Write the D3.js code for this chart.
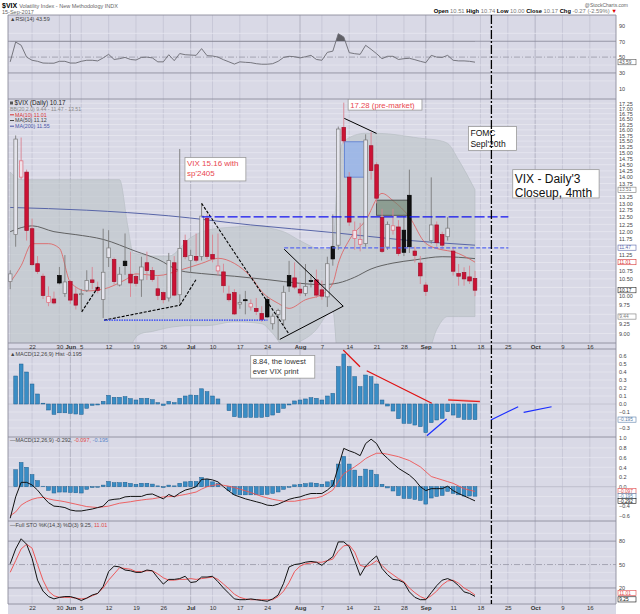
<!doctype html>
<html lang="en">
<head>
<meta charset="utf-8">
<style>
body{margin:0;background:#fff;}
svg text{font-family:"Liberation Sans",Arial,sans-serif;}
</style>
</head>
<body>
<svg id="chart" width="640" height="614"></svg>
<script src="https://d3js.org/d3.v7.min.js"></script>
<script>

// first candle is 16 May 2017; index 0 = 22 May 2017 (trading days)
var startIdx = -4;

var open = [10.42,11.9,14.0,14.2,12.1,10.96,10.58,9.82,9.92,10.6,
 10.08,10.42,10.06,10.06,10.17,10.47,10.25,9.91,11.15,11.09,
 10.32,11.04,10.64,10.57,10.47,10.99,10.75,10.21,10.1,9.95,
 10.99,10.04,11.7,11.06,11.19,11.19,12.46,11.25,10.74,10.71,
 10.06,10.1,9.78,9.9,9.7,9.66,9.52,9.91,9.25,9.5,
 9.35,10.6,10.53,10.2,10.08,10.45,10.47,10.18,9.98,11.5,
 11.55,16.11,14.0,11.77,11.58,11.6,15.3,14.5,12.5,11.49,
 12.05,12.16,12.05,13.3,11.36,10.98,10.32,11.7,12.23,11.9,
 11.83,11.36,10.66,10.69,10.56,10.51];
var high = [10.76,15.75,15.66,14.3,12.45,11.2,10.66,10.28,10.13,10.86,
 11.23,10.47,10.27,10.2,10.76,10.86,10.42,12.1,12.05,11.15,
 10.86,11.94,11.34,10.66,11.18,11.34,10.86,10.57,10.13,11.3,
 11.2,15.16,11.9,11.4,11.94,13.0,12.6,11.9,11.94,10.96,
 10.3,10.2,10.05,10.15,9.91,9.95,9.72,10.0,9.52,9.65,
 10.3,11.05,11.0,10.4,10.95,10.65,10.78,10.45,11.18,12.6,
 16.15,17.28,14.2,12.35,12.3,15.8,15.9,14.6,12.8,12.35,
 12.8,12.4,12.6,14.3,11.5,11.2,10.4,13.99,12.35,12.0,
 12.5,11.5,10.95,10.85,10.9,10.74];
var low = [10.2,11.5,13.9,11.7,10.9,10.65,9.92,9.72,9.77,10.34,
 9.98,9.79,9.63,9.6,10.12,10.2,10.08,9.4,10.86,10.33,
 10.28,10.62,9.98,10.28,9.98,10.47,10.42,9.89,9.8,9.85,
 10.0,9.8,11.1,10.7,11.0,11.06,11.1,11.0,10.6,10.1,
 9.85,9.48,9.65,9.5,9.6,9.48,9.3,9.4,9.1,8.84,
 9.2,10.12,10.2,10.0,10.0,10.25,9.95,9.9,9.7,10.9,
 11.4,15.4,12.2,11.4,11.35,11.5,13.9,13.0,11.3,11.4,
 11.9,11.2,11.2,11.3,11.0,10.35,10.0,11.6,11.5,11.4,
 11.7,10.6,10.3,10.3,10.35,10.0];
var close = [10.65,15.59,14.66,12.04,10.93,10.72,10.02,9.99,9.81,10.38,
 10.41,9.89,9.75,10.07,10.45,10.39,10.16,10.70,11.46,10.42,
 10.64,10.90,10.38,10.37,10.86,10.75,10.48,10.02,9.90,11.06,
 10.03,11.44,11.18,11.22,11.07,12.54,11.19,11.11,10.89,10.30,
 9.90,9.51,9.82,9.89,9.79,9.58,9.36,9.43,9.45,9.60,
 10.11,10.29,10.26,10.09,10.28,10.44,10.03,10.0,10.96,11.11,
 16.04,15.51,12.33,12.04,11.74,15.55,14.26,13.19,11.35,12.25,
 12.2,11.28,11.32,11.5,11.22,10.59,10.13,12.23,11.63,11.55,
 12.12,10.73,10.58,10.50,10.44,10.17];

var rsi = [44,69,65,50,46,44.7,42.5,42.3,42.3,44.7,
 44.7,42.5,42.5,44.7,46,46,45.2,49,53.5,47,
 48,49.6,47,46.3,49.6,50,49,44,44,53,
 45.5,54.5,53,52.6,52.2,60.7,51.8,51.4,50,46.7,
 44,41.2,44,43.4,43,41.7,41,41,41.7,44.7,
 49.6,51,50.5,49,50.5,52.2,47,46,56,57.5,
 79.6,75.4,55.6,54.3,53.5,64.9,59.8,54.3,48,51,
 51,47,48,48.5,46.7,44.7,43,52.2,50,49.6,
 52.2,46,45.2,45.2,44.7,43.59];

var macdHist = [0,0.35,0.50,0.40,0.25,0.125,0.01,-0.075,-0.13,-0.11,
 -0.11,-0.117,-0.125,-0.13,-0.054,-0.017,-0.012,0.033,0.108,0.083,
 0.083,0.092,0.067,0.05,0.071,0.071,0.054,0.017,-0.017,0.033,
 0.017,0.071,0.10,0.112,0.108,0.19,0.154,0.10,0.063,0.0,
 -0.083,-0.158,-0.167,-0.167,-0.167,-0.167,-0.167,-0.158,-0.138,-0.108,
 -0.054,-0.012,0.038,0.05,0.063,0.079,0.071,0.05,0.10,0.133,
 0.467,0.625,0.467,0.342,0.217,0.362,0.342,0.25,0.05,-0.025,
 -0.088,-0.183,-0.242,-0.242,-0.263,-0.283,-0.358,-0.233,-0.20,-0.179,
 -0.096,-0.138,-0.167,-0.192,-0.192,-0.195];
var macdLine = [-0.65,-0.21,0.09,0.09,0.035,-0.07,-0.21,-0.33,-0.40,-0.41,
 -0.43,-0.48,-0.50,-0.50,-0.48,-0.46,-0.43,-0.40,-0.28,-0.26,
 -0.25,-0.21,-0.20,-0.20,-0.20,-0.16,-0.15,-0.20,-0.25,-0.16,
 -0.21,-0.13,-0.07,-0.04,0.0,0.15,0.16,0.14,0.10,0.0,
 -0.09,-0.17,-0.21,-0.25,-0.28,-0.31,-0.34,-0.38,-0.39,-0.36,
 -0.31,-0.26,-0.23,-0.21,-0.17,-0.14,-0.14,-0.14,-0.07,0.03,
 0.41,0.79,0.74,0.70,0.64,0.89,0.98,0.89,0.69,0.585,
 0.48,0.38,0.31,0.24,0.14,0.0,-0.08,-0.04,-0.04,-0.04,
 0.01,-0.08,-0.14,-0.19,-0.24,-0.292];
var macdSignal = [-0.60,-0.52,-0.38,-0.31,-0.26,-0.23,-0.22,-0.25,-0.275,-0.29,
 -0.31,-0.335,-0.36,-0.385,-0.41,-0.42,-0.43,-0.415,-0.40,-0.37,
 -0.34,-0.325,-0.31,-0.29,-0.275,-0.26,-0.25,-0.23,-0.21,-0.205,
 -0.20,-0.18,-0.16,-0.135,-0.11,-0.05,0.0,0.025,0.045,0.03,
 0.01,-0.02,-0.05,-0.085,-0.12,-0.16,-0.20,-0.23,-0.26,-0.28,
 -0.30,-0.30,-0.30,-0.28,-0.26,-0.24,-0.23,-0.20,-0.14,-0.07,
 0.10,0.27,0.34,0.41,0.49,0.58,0.64,0.69,0.69,0.67,
 0.645,0.62,0.58,0.54,0.475,0.41,0.31,0.21,0.175,0.14,
 0.105,0.07,0.015,-0.04,-0.07,-0.097];

var stoK = [51,70,83,76,58,30,16,9,6,8,
 9,9,7,4,7,11,13,22,41,48,
 47,43,42,40,40,43,42,33,25,31,
 31,32,35,27,28,34,34,35,28,20,
 13,6,5,5,6,5,4,3,6,11,
 26,47,50,51,53,54,53,49,55,60,
 79,79,73,55,36,48,55,61,45,37,
 31,30,27,15,8,5,5,14,23,30,
 32,29,23,15,13,9.25];
var stoD = [40,55,70,76,71,50,30,16,10,8,
 8,8,7,6,7,10,13,20,30,38,
 46,45,44,41,41,42,42,38,33,30,
 30,31,31,32,31,32,33,34,31,25,
 19,12,8,6,5,5,5,5,5,9,
 16,27,41,48,51,52,53,53,55,57,
 67,74,75,66,49,47,50,55,49,42,
 37,32,28,20,14,9,6,10,16,24,
 29,30,26,20,16,11.01];

// overlays read at sample days: [day index, value]
var ma10 = [[-4,10.4],[-2,10.9],[0,11.6],[3,11.6],[5,11.45],[7,10.4],[10,10.15],[13,10.2],[17,10.47],[19,10.65],[23,10.6],[27,10.76],[31,10.97],[34,11.13],[37,10.97],[40,10.56],[42,10.13],[45,9.8],[47,9.66],[50,9.9],[53,10.05],[55,10.37],[56,10.97],[58,11.72],[61,12.39],[64,13.37],[66,13.1],[69,12.51],[72,11.61],[75,11.4],[77,11.34],[81,11.01]];
var ma50 = [[-4,12.0],[0,12.2],[4,12.0],[8,11.9],[13,11.74],[19,11.35],[23,11.1],[27,10.75],[31,10.66],[37,10.58],[43,10.48],[49,10.37],[53,10.33],[56,10.38],[59,10.55],[62,10.8],[66,10.98],[70,11.08],[75,11.18],[81,11.12]];
var ma200 = [[-4,12.85],[10,12.75],[25,12.55],[40,12.23],[55,11.97],[68,11.72],[81,11.55]];
var bbIdx   = [-4,-2,16,17.5,18.5,20,22,25,29,32,37,42,44,46,49,52,54,55,56,57,61,63,72,74,76,78,81];
var bbUpper = [14.2,13.9,13.9,12.2,11.3,11.25,11.2,11.2,11.8,12.05,12.16,12.2,12.1,12.0,11.7,11.45,11.4,11.6,14.5,15.5,15.85,15.85,15.6,15.55,15.4,14.7,13.51];
var bbLower = [7.0,7.0,7.0,7.0,8.8,9.0,9.05,9.15,9.2,9.2,9.3,9.25,9.0,8.7,8.8,9.1,9.5,9.6,8.3,8.3,8.3,8.3,8.4,9.1,9.44,9.44,9.44];

var tickIdx = [0,5,7,9,14,19,24,29,33,38,43,49,53,58,63,68,72,77,82,87,92,97,102];
var tickLabels = ["22","30","Jun","5","12","19","26","Jul","10","17","24","Aug","7","14","21","28","Sep","11","18","25","Oct","9","16"];
var monthLabels = ["Jun","Jul","Aug","Sep","Oct"];
var priceGrid = [9,9.25,9.5,9.75,10,10.25,10.5,10.75,11,11.25,11.5,11.75,12,12.25,12.5,12.75,13,13.25,13.5,13.75,14,14.25,14.5,14.75,15,15.25,15.5,15.75,16,16.25,16.5,16.75,17,17.25];
var priceTicks = [9,9.25,9.75,10,10.5,10.75,11.25,11.75,12,12.25,12.5,12.75,13,13.25,13.75,14,14.25,14.5,14.75,15,15.25,15.5,15.75,16,16.25,16.5,16.75,17,17.25];
var histTicks = [-0.3,-0.1,0,0.1,0.2,0.3,0.4,0.5,0.6];
var macdTicks = [-0.6,-0.4,0,0.2,0.4,0.6,0.8,1.0];
var rsiTicks = [10,30,50,70,90];
var stoTicks = [20,50,80];
var fomcIdx = 84;

var svg = d3.select("#chart");
var L = 8, R = 616;
var bg = "#d9d9e6";

var x = d3.scaleLinear().domain([-4, 81]).range([10.2, 475]);
var yRsi = d3.scaleLinear().domain([0, 100]).range([96.7, 17.5]);
var yMain = d3.scaleLog().domain([8.76, 17.46]).range([343, 99]);
var yHist = d3.scaleLinear().domain([-0.4125, 0.6875]).range([437, 349]);
var yMacd = d3.scaleLinear().domain([-0.707, 1.025]).range([521, 437]);
var ySto = d3.scaleLinear().domain([0, 100]).range([603.6, 525.5]);

var days = d3.range(open.length).map(function(i){ return startIdx + i; });

svg.append("rect").attr("x", L).attr("y", 15).attr("width", R - L).attr("height", 599).attr("fill", bg);

function clipped(name, top, bottom){
	svg.append("clipPath").attr("id", "c-" + name).append("rect")
		.attr("x", L).attr("y", top).attr("width", R - L).attr("height", bottom - top);
	return svg.append("g").attr("clip-path", "url(#c-" + name + ")");
}

function vGrid(g, top, bottom){
	g.selectAll(null).data(tickIdx).enter().append("line")
		.attr("x1", function(d){ return x(d); }).attr("x2", function(d){ return x(d); })
		.attr("y1", top).attr("y2", bottom)
		.attr("stroke", function(d, i){ return monthLabels.indexOf(tickLabels[i]) >= 0 ? "#a9a9ba" : "#c3c3d3"; })
		.attr("stroke-width", 0.8);
}

function hGrid(g, scale, values, color, width, dash){
	g.selectAll(null).data(values).enter().append("line")
		.attr("x1", L).attr("x2", R)
		.attr("y1", function(d){ return scale(d); }).attr("y2", function(d){ return scale(d); })
		.attr("stroke", color).attr("stroke-width", width).attr("stroke-dasharray", dash || null);
}

function rightAxis(scale, values, fmt){
	var g = svg.append("g").attr("transform", "translate(" + R + ",0)")
		.call(d3.axisRight(scale).tickValues(values).tickFormat(fmt).tickSize(0).tickPadding(3));
	g.select(".domain").remove();
	g.attr("font-size", 5.5).attr("font-family", "Liberation Sans, Arial, sans-serif");
	g.selectAll("text").attr("fill", "#444");
}

function valueBox(y, label, color){
	svg.append("rect").attr("x", R + 2).attr("y", y - 2.6).attr("width", 18).attr("height", 5.2)
		.attr("fill", "#fff").attr("stroke", color).attr("stroke-width", 0.6);
	svg.append("text").attr("x", R + 3.3).attr("y", y + 1.7).attr("font-size", 4.8).attr("fill", color).text(label);
}

function dateAxis(y){
	var g = svg.append("g").attr("transform", "translate(0," + y + ")")
		.call(d3.axisBottom(x).tickValues(tickIdx).tickFormat(function(d, i){ return tickLabels[i]; }).tickSize(0).tickPadding(2));
	g.select(".domain").remove();
	g.attr("font-size", 6).attr("font-family", "Liberation Sans, Arial, sans-serif");
	g.selectAll("text").attr("fill", "#333")
		.attr("font-weight", function(d, i){ return monthLabels.indexOf(tickLabels[i]) >= 0 ? "bold" : "normal"; });
}

function noteBox(g, x0, y0, x1, y1, lines, color, size, lh){
	g.append("rect").attr("x", x0).attr("y", y0).attr("width", x1 - x0).attr("height", y1 - y0)
		.attr("fill", "#fff").attr("stroke", "#999").attr("stroke-width", 0.8);
	lines.forEach(function(t, i){
		g.append("text").attr("x", x0 + 2).attr("y", y0 + size + 1 + i * lh)
			.attr("font-size", size).attr("fill", color).text(t);
	});
}

function seg(g, a, b, sy, color, width, dash){
	g.append("line").attr("x1", x(a[0])).attr("y1", sy(a[1])).attr("x2", x(b[0])).attr("y2", sy(b[1]))
		.attr("stroke", color).attr("stroke-width", width).attr("stroke-dasharray", dash || null);
}

// ---------- header ----------
var head = svg.append("text").attr("x", 2).attr("y", 7.5).attr("font-size", 5.5).attr("fill", "#666");
head.append("tspan").attr("font-weight", "bold").attr("font-size", 7).attr("fill", "#000").text("$VIX ");
head.append("tspan").text("Volatility Index - New Methodology INDX");
svg.append("text").attr("x", 2).attr("y", 14).attr("font-size", 5.5).attr("fill", "#666").text("15-Sep-2017");
svg.append("text").attr("x", 628).attr("y", 6.5).attr("font-size", 5).attr("fill", "#666").attr("text-anchor", "end").text("@StockCharts.com");
var ohlc = svg.append("text").attr("x", 617).attr("y", 13).attr("font-size", 5.8).attr("text-anchor", "end").attr("fill", "#777");
[["Open", "10.51"], ["High", "10.74"], ["Low", "10.00"], ["Close", "10.17"], ["Chg", "-0.27 (-2.59%)"]].forEach(function(p){
	ohlc.append("tspan").attr("font-weight", "bold").attr("fill", "#000").text(p[0] + " ");
	ohlc.append("tspan").text(p[1] + " ");
});
ohlc.append("tspan").attr("fill", "#d00").text("\u25BC");

// ---------- RSI panel ----------
var gR = clipped("rsi", 15, 99);
vGrid(gR, 15, 99);
hGrid(gR, yRsi, [20, 40, 60, 80], "#e6e6ef", 0.8);
hGrid(gR, yRsi, [30, 70], "#8e8e9e", 0.9);
hGrid(gR, yRsi, [50], "#8e8e9e", 0.7, "6,2,1,2");
svg.append("clipPath").attr("id", "c-rsiTop").append("rect").attr("x", L).attr("y", 15).attr("width", R - L).attr("height", yRsi(70) - 15);
gR.append("path").datum(rsi).attr("clip-path", "url(#c-rsiTop)")
	.attr("d", d3.area().x(function(d, i){ return x(days[i]); }).y0(yRsi(70)).y1(function(d){ return yRsi(d); }))
	.attr("fill", "#5f5f66");
gR.append("path").datum(rsi)
	.attr("d", d3.line().x(function(d, i){ return x(days[i]); }).y(function(d){ return yRsi(d); }))
	.attr("fill", "none").attr("stroke", "#6a6a72").attr("stroke-width", 0.9);
svg.append("text").attr("x", 10).attr("y", 20.5).attr("font-size", 5.5).attr("fill", "#444").text("\u25B2RSI(14) 43.59");
rightAxis(yRsi, rsiTicks, d3.format("d"));
valueBox(yRsi(43.59), "43.59", "#555");

// ---------- price panel ----------
var gM = clipped("main", 99, 343);
vGrid(gM, 99, 343);
hGrid(gM, yMain, priceGrid, "#e7e7f0", 0.8);

gM.append("path").datum(bbIdx)
	.attr("d", d3.area().curve(d3.curveMonotoneX)
		.x(function(d){ return x(d); })
		.y0(function(d, i){ return yMain(bbLower[i]); })
		.y1(function(d, i){ return yMain(bbUpper[i]); }))
	.attr("fill", "#bcc3c6").attr("fill-opacity", 0.62).attr("stroke", "#aeb6ba").attr("stroke-width", 0.5);

var maLine = d3.line().curve(d3.curveMonotoneX).x(function(d){ return x(d[0]); }).y(function(d){ return yMain(d[1]); });
gM.append("path").datum(ma200).attr("d", maLine).attr("fill", "none").attr("stroke", "#5865a8").attr("stroke-width", 1);
gM.append("path").datum(ma50).attr("d", maLine).attr("fill", "none").attr("stroke", "#555").attr("stroke-width", 0.9);
gM.append("path").datum(ma10).attr("d", maLine).attr("fill", "none").attr("stroke", "#e05a5a").attr("stroke-width", 0.8);

// highlight boxes
gM.append("rect").attr("x", x(57.1)).attr("y", yMain(15.47)).attr("width", x(61.06) - x(57.1)).attr("height", yMain(14.0) - yMain(15.47))
	.attr("fill", "#8aaef0").attr("fill-opacity", 0.65).attr("stroke", "#4a6fd0").attr("stroke-width", 0.7);
gM.append("rect").attr("x", x(63.0)).attr("y", yMain(13.12)).attr("width", x(68.9) - x(63.0)).attr("height", yMain(12.57) - yMain(13.12))
	.attr("fill", "#6d846f").attr("fill-opacity", 0.65).attr("stroke", "#333").attr("stroke-width", 0.7);

// candles
var candles = days.map(function(d, i){
	return {i: d, o: open[i], h: high[i], l: low[i], c: close[i], pc: i > 0 ? close[i - 1] : open[i]};
});
var cg = gM.selectAll(null).data(candles).enter().append("g");
cg.append("line")
	.attr("x1", function(d){ return x(d.i); }).attr("x2", function(d){ return x(d.i); })
	.attr("y1", function(d){ return yMain(d.h); }).attr("y2", function(d){ return yMain(d.l); })
	.attr("stroke", function(d){ return d.c < d.pc ? "#d98592" : "#7c7c7c"; }).attr("stroke-width", 0.9);
cg.append("rect")
	.attr("x", function(d){ return x(d.i) - 1.8; }).attr("width", 3.6)
	.attr("y", function(d){ return yMain(Math.max(d.o, d.c)); })
	.attr("height", function(d){ return Math.max(1, yMain(Math.min(d.o, d.c)) - yMain(Math.max(d.o, d.c))); })
	.attr("fill", function(d){
		if (d.c < d.o) return d.c < d.pc ? "#cc1234" : "#111";
		return d.c < d.pc ? "#efe3ea" : "#e4e4ec";
	})
	.attr("stroke", function(d){
		if (d.c < d.o) return d.c < d.pc ? "#a0102a" : "#000";
		return d.c < d.pc ? "#e06a7a" : "#7a7a7a";
	})
	.attr("stroke-width", 0.7);

// drawn trend lines
seg(gM, [9.07, 9.566], [12.1, 10.27], yMain, "#000", 1.1, "3,1.5");
seg(gM, [13.15, 9.344], [27.05, 9.749], yMain, "#000", 1.1, "3,1.5");
seg(gM, [27.05, 9.749], [30.1, 10.51], yMain, "#000", 1.1, "3,1.5");
seg(gM, [13.15, 9.344], [43.05, 9.344], yMain, "#2436ff", 1.1, "1.5,1");
seg(gM, [31.0, 13.0], [47.0, 8.98], yMain, "#000", 1.1, "3,1.5");
seg(gM, [31.0, 12.51], [87.1, 12.51], yMain, "#1010ee", 1.3, "10,3");
seg(gM, [46.1, 11.46], [87.1, 11.46], yMain, "#5868f0", 1.3, "4,2");
seg(gM, [46.1, 11.42], [56.9, 9.72], yMain, "#000", 1);
seg(gM, [45.3, 8.85], [56.9, 9.72], yMain, "#000", 1);
seg(gM, [57.1, 16.53], [63.0, 15.84], yMain, "#000", 1);

// notes
noteBox(gM, x(27.96), yMain(14.80), x(39.1), yMain(13.85), ["VIX 15.16 with", "sp'2405"], "#e8474f", 8, 10);
noteBox(gM, x(57.8), yMain(17.46), x(71.3), yMain(16.92), ["17.28 (pre-market)"], "#e8474f", 7.8, 9);
noteBox(gM, x(79.8), yMain(16.15), x(88.6), yMain(15.1), ["FOMC", "Sepl'20th"], "#111", 8.5, 11);
noteBox(gM, x(87.9), yMain(14.3), x(103.7), yMain(13.2), ["VIX - Daily'3", "Closeup, 4mth"], "#111", 12, 14);

// legend
svg.append("rect").attr("x", 10).attr("y", 101.5).attr("width", 3).attr("height", 3).attr("fill", "#555");
svg.append("text").attr("x", 14.5).attr("y", 105).attr("font-size", 6.3).attr("fill", "#222").text("$VIX (Daily) 10.17");
svg.append("text").attr("x", 10).attr("y", 110.8).attr("font-size", 5.2).attr("fill", "#8a8a8a").text("BB(20,2.0) 9.44 - 11.47 - 13.51");
[["MA(10) 11.01", "#d83333"], ["MA(50) 11.12", "#444"], ["MA(200) 11.55", "#4a56a8"]].forEach(function(m, i){
	var yy = 116.5 + i * 5.7;
	svg.append("line").attr("x1", 10).attr("x2", 14).attr("y1", yy - 1.7).attr("y2", yy - 1.7).attr("stroke", m[1]).attr("stroke-width", 1);
	svg.append("text").attr("x", 15).attr("y", yy).attr("font-size", 5.3).attr("fill", m[1]).text(m[0]);
});
rightAxis(yMain, priceTicks, d3.format(".2f"));
valueBox(yMain(13.51), "13.51", "#777");
valueBox(yMain(11.47), "11.47", "#5865a8");
valueBox(yMain(11.01), "11.01", "#d83333");
valueBox(yMain(10.17), "10.17", "#222");
valueBox(yMain(9.44), "9.44", "#777");

// ---------- MACD histogram panel ----------
var gH = clipped("hist", 349, 437);
vGrid(gH, 349, 437);
hGrid(gH, yHist, histTicks.concat([-0.2]), "#e6e6ef", 0.8);
hGrid(gH, yHist, [0], "#b7b7c6", 0.8);
gH.selectAll(null).data(macdHist).enter().append("rect")
	.attr("x", function(d, i){ return x(days[i]) - 1.9; }).attr("width", 3.8)
	.attr("y", function(d){ return yHist(Math.max(0, d)); })
	.attr("height", function(d){ return Math.abs(yHist(d) - yHist(0)); })
	.attr("fill", "#3a8dc5").attr("stroke", "#1f5e8e").attr("stroke-width", 0.5);
seg(gH, [56.9, 0.675], [59.97, 0.466], yHist, "#e01010", 1.2);
seg(gH, [61.2, 0.416], [73.1, 0.009], yHist, "#e01010", 1.2);
seg(gH, [76.1, 0.055], [81.9, 0.034], yHist, "#f08a8a", 1.8);
seg(gH, [76.1, 0.05], [81.9, 0.029], yHist, "#e01010", 0.9);
seg(gH, [72.2, -0.396], [75.8, -0.1875], yHist, "#1a2cff", 1.2);
seg(gH, [83.9, -0.2], [88.9, -0.034], yHist, "#1a2cff", 1.2);
seg(gH, [89.9, -0.104], [95.0, -0.034], yHist, "#1a2cff", 1.2);
noteBox(gH, x(39.98), yHist(0.606), x(51.7), yHist(0.323), ["8.84, the lowest", "ever VIX print"], "#333", 7.6, 9.5);
svg.append("text").attr("x", 10).attr("y", 355.5).attr("font-size", 5.5).attr("fill", "#444").text("\u25B2MACD(12,26,9) Hist -0.195");
rightAxis(yHist, histTicks, d3.format(".1f"));
valueBox(yHist(-0.195), "-0.195", "#5a7ea8");

// ---------- MACD panel ----------
var gC = clipped("macd", 437, 521);
vGrid(gC, 437, 521);
hGrid(gC, yMacd, [-0.6, -0.4, -0.2, 0.2, 0.4, 0.6, 0.8], "#e6e6ef", 0.8);
hGrid(gC, yMacd, [0], "#b7b7c6", 0.8);
gC.selectAll(null).data(macdHist).enter().append("rect")
	.attr("x", function(d, i){ return x(days[i]) - 1.9; }).attr("width", 3.8)
	.attr("y", function(d){ return yMacd(Math.max(0, d)); })
	.attr("height", function(d){ return Math.abs(yMacd(d) - yMacd(0)); })
	.attr("fill", "#3a8dc5").attr("stroke", "#1f5e8e").attr("stroke-width", 0.5);
var macdPath = d3.line().x(function(d, i){ return x(days[i]); }).y(function(d){ return yMacd(d); });
gC.append("path").datum(macdSignal).attr("d", macdPath).attr("fill", "none").attr("stroke", "#ee5555").attr("stroke-width", 0.9);
gC.append("path").datum(macdLine).attr("d", macdPath).attr("fill", "none").attr("stroke", "#111").attr("stroke-width", 1);
var mt = svg.append("text").attr("x", 10).attr("y", 441.5).attr("font-size", 5.5).attr("fill", "#444");
mt.append("tspan").text("\u2014MACD(12,26,9) -0.292, ");
mt.append("tspan").attr("fill", "#e04848").text("-0.097, ");
mt.append("tspan").attr("fill", "#5a86c8").text("-0.195");
rightAxis(yMacd, macdTicks, d3.format(".1f"));
valueBox(yMacd(-0.097) - 0.4, "-0.097", "#e04848");
valueBox(yMacd(-0.195), "-0.195", "#5a7ea8");
valueBox(yMacd(-0.292) + 0.2, "-0.292", "#111");

// ---------- Full STO panel ----------
var gS = clipped("sto", 521, 604);
vGrid(gS, 521, 604);
hGrid(gS, ySto, [10, 30, 40, 60, 70, 90], "#e6e6ef", 0.8);
hGrid(gS, ySto, [20, 80], "#8e8e9e", 0.9);
hGrid(gS, ySto, [50], "#8e8e9e", 0.7, "6,2,1,2");
var stoPath = d3.line().x(function(d, i){ return x(days[i]); }).y(function(d){ return ySto(d); });
gS.append("path").datum(stoD).attr("d", stoPath).attr("fill", "none").attr("stroke", "#ee4a4a").attr("stroke-width", 0.9);
gS.append("path").datum(stoK).attr("d", stoPath).attr("fill", "none").attr("stroke", "#111").attr("stroke-width", 1);
var st = svg.append("text").attr("x", 10).attr("y", 527).attr("font-size", 5.5).attr("fill", "#444");
st.append("tspan").text("\u2014Full STO %K(14,3) %D(3) 9.25, ");
st.append("tspan").attr("fill", "#e04848").text("11.01");
rightAxis(ySto, stoTicks, d3.format("d"));
valueBox(ySto(11.01) - 2, "11.01", "#e04848");
valueBox(ySto(9.25) + 3, "9.25", "#111");

// ---------- frames, dates, FOMC marker ----------
[15, 99, 343, 349, 437, 521, 604].forEach(function(yy){
	svg.append("line").attr("x1", L).attr("x2", R).attr("y1", yy).attr("y2", yy).attr("stroke", "#8c8c9c").attr("stroke-width", 0.9);
});
svg.append("line").attr("x1", L).attr("x2", L).attr("y1", 15).attr("y2", 604).attr("stroke", "#8c8c9c").attr("stroke-width", 0.9);
svg.append("line").attr("x1", R).attr("x2", R).attr("y1", 15).attr("y2", 604).attr("stroke", "#8c8c9c").attr("stroke-width", 0.9);
dateAxis(343);
dateAxis(604);
svg.append("line").attr("x1", x(fomcIdx)).attr("x2", x(fomcIdx)).attr("y1", 15).attr("y2", 604)
	.attr("stroke", "#000").attr("stroke-width", 1.3).attr("stroke-dasharray", "9,2,2,2");

</script>
</body>
</html>
